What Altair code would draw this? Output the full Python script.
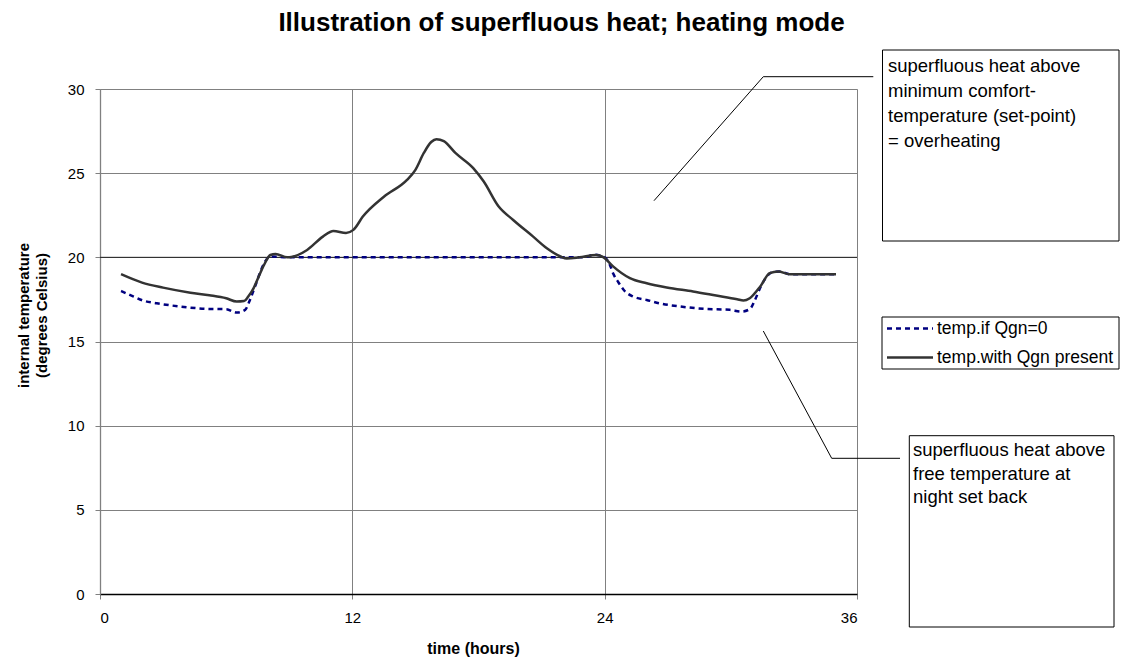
import altair as alt
import pandas as pd

# ---------------- data ----------------
series_free = "temp.if Qgn=0"
series_with = "temp.with Qgn present"

hours_with = [1.0, 2.0, 3.0, 4.3, 5.2, 6.0, 6.5, 6.85, 7.05, 7.3, 7.55, 7.8, 8.1, 8.35,
              8.9, 9.1, 9.85, 10.6, 11.1, 11.7, 12.05, 12.5, 13.5, 14.6, 15.0, 15.4,
              15.75, 16.0, 16.35, 16.9, 17.75, 18.25, 18.95, 19.65, 20.6, 21.25, 21.9,
              22.2, 22.8, 23.6, 23.95, 24.4, 25.2, 26.0, 26.95, 28.2, 29.3, 30.3, 30.6,
              30.9, 31.4, 31.85, 32.25, 32.8, 35.0]
temp_with = [19.0, 18.5, 18.2, 17.9, 17.75, 17.57, 17.37, 17.4, 17.67, 18.16, 18.86,
             19.55, 20.14, 20.2, 20.0, 20.02, 20.44, 21.23, 21.57, 21.45, 21.63, 22.42,
             23.6, 24.6, 25.2, 26.2, 26.85, 27.02, 26.9, 26.2, 25.3, 24.5, 23.03, 22.22,
             21.23, 20.54, 20.05, 19.93, 20.0, 20.14, 20.0, 19.46, 18.76, 18.46, 18.21,
             17.97, 17.73, 17.51, 17.43, 17.57, 18.27, 19.06, 19.16, 19.0, 19.0]

hours_free = [1.0, 1.6, 2.05, 2.7, 3.8, 5.1, 6.0, 6.5, 6.9, 7.13, 7.37, 7.6, 7.85, 8.1,
              9.0, 23.0, 23.5, 23.93, 24.25, 24.4, 24.65, 24.95, 25.35, 26.0, 26.6, 27.6,
              28.7, 29.95, 30.5, 30.9, 31.15, 31.35, 31.6, 31.95, 32.35, 32.8, 35.0]
temp_free = [18.0, 17.67, 17.43, 17.27, 17.08, 16.94, 16.92, 16.72, 16.88, 17.47, 18.26,
             19.05, 19.75, 20.05, 20.0, 20.0, 20.15, 20.05, 19.55, 19.05, 18.52, 18.0,
             17.67, 17.47, 17.27, 17.08, 16.94, 16.88, 16.78, 16.92, 17.47, 18.06, 18.66,
             19.1, 19.16, 19.0, 19.0]

set_point = [20]
x_ticks = [0, 12, 24, 36]
y_ticks = [0, 5, 10, 15, 20, 25, 30]

title_text = "Illustration of superfluous heat; heating mode"
x_title = "time (hours)"
y_title = ["internal temperature", "(degrees Celsius)"]
note_top = ["superfluous heat above", "minimum comfort-", "temperature (set-point)", "= overheating"]
note_bottom = ["superfluous heat above", "free temperature at", "night set back"]

# ---------------- layout / style ----------------
W, H = 757, 505
FONT = "Liberation Sans"
NAVY = "#000080"
DARK = "#333333"
GRID = "#808080"

df_with = pd.DataFrame({"hour": hours_with, "temp": temp_with, "series": series_with})
df_free = pd.DataFrame({"hour": hours_free, "temp": temp_free, "series": series_free})

xs = alt.Scale(domain=[0, 36], nice=False, zero=False)
ys = alt.Scale(domain=[0, 30], nice=False, zero=False)

x_axis = alt.Axis(values=x_ticks, grid=True, gridColor=GRID, gridWidth=1,
                  domainColor="#000000", domainWidth=1.3, tickColor=GRID, tickSize=5,
                  labelFontSize=15, labelColor="#000000", labelPadding=11, labelFont=FONT,
                  title=x_title, titleFontSize=16, titleFontWeight="bold", titleFont=FONT,
                  titleColor="#000000", titleY=54, titleBaseline="middle", titleX=373)
y_axis = alt.Axis(values=y_ticks, grid=True, gridColor=GRID, gridWidth=1,
                  domainColor=GRID, domainWidth=1.3, tickColor=GRID, tickSize=5,
                  labelFontSize=15, labelColor="#000000", labelPadding=11, labelFont=FONT,
                  title=y_title, titleFontSize=15, titleFontWeight="bold", titleFont=FONT,
                  titleColor="#000000", titleAngle=-90, titleX=-77, titleY=226,
                  titleBaseline="middle", titleLineHeight=18, titleAlign="center")

free_line = alt.Chart(df_free).mark_line(
    interpolate="monotone", color=NAVY, strokeWidth=2.5, strokeDash=[5, 4]
).encode(
    x=alt.X("hour:Q", scale=xs, axis=x_axis),
    y=alt.Y("temp:Q", scale=ys, axis=y_axis),
)

with_line = alt.Chart(df_with).mark_line(
    interpolate="monotone", color=DARK, strokeWidth=2.5
).encode(x=alt.X("hour:Q", scale=xs), y=alt.Y("temp:Q", scale=ys))

sp_rule = alt.Chart(pd.DataFrame({"sp": set_point})).mark_rule(
    color="#222222", strokeWidth=1
).encode(y=alt.Y("sp:Q", scale=ys), x=alt.value(0), x2=alt.value(W))

# ---- annotation geometry (pixels relative to plot origin) ----
boxes = pd.DataFrame({
    "x1": [782.5, 809.3, 782.0], "x2": [1019.0, 1014.0, 1019.0],
    "y1": [-39.0, 346.7, 228.0], "y2": [152.0, 538.0, 280.0],
})
leaders = pd.DataFrame({
    "x1": [663.3, 663.3, 663.3, 731.7],
    "y1": [-12.3, -12.3, 242.0, 369.3],
    "x2": [773.3, 554.0, 731.7, 800.0],
    "y2": [-12.3, 111.7, 369.3, 369.3],
})
notes = pd.DataFrame({
    "text": note_top + note_bottom,
    "px": [788.0] * len(note_top) + [813.0] * len(note_bottom),
    "py": [-17.0 + 25.0 * i for i in range(len(note_top))]
          + [367.0 + 23.5 * i for i in range(len(note_bottom))],
})
legend_rows = pd.DataFrame({
    "label": [series_free, series_with],
    "sx1": [787.0, 787.0], "sx2": [833.0, 833.0],
    "sy": [239.5, 268.5], "tx": [837.0, 837.0],
})

P = lambda f: alt.X(f, type="quantitative", scale=None, axis=None)
Q = lambda f: alt.Y(f, type="quantitative", scale=None, axis=None)

box_layer = alt.Chart(boxes).mark_rect(fill="white", stroke="#000000", strokeWidth=1).encode(
    x=P("x1"), x2="x2", y=Q("y1"), y2="y2")
leader_layer = alt.Chart(leaders).mark_rule(color="#000000", strokeWidth=1).encode(
    x=P("x1"), y=Q("y1"), x2="x2", y2="y2")
note_layer = alt.Chart(notes).mark_text(
    align="left", baseline="alphabetic", fontSize=18.5, font=FONT, color="#000000"
).encode(x=P("px"), y=Q("py"), text="text:N")

leg_free = alt.Chart(legend_rows.iloc[[0]]).mark_rule(
    color=NAVY, strokeWidth=2.5, strokeDash=[5, 4]).encode(
    x=P("sx1"), x2="sx2", y=Q("sy"))
leg_with = alt.Chart(legend_rows.iloc[[1]]).mark_rule(
    color=DARK, strokeWidth=2.5).encode(
    x=P("sx1"), x2="sx2", y=Q("sy"))
leg_text = alt.Chart(legend_rows).mark_text(
    align="left", baseline="middle", fontSize=17.5, font=FONT, color="#000000"
).encode(x=P("tx"), y=Q("sy"), text="label:N")

chart = alt.layer(
    sp_rule, free_line, with_line, leader_layer, box_layer, note_layer,
    leg_free, leg_with, leg_text
).properties(
    width=W, height=H,
    title=alt.TitleParams(title_text, fontSize=26, fontWeight="bold", font=FONT,
                          color="#000000", anchor="middle", frame="group", dx=83,
                          offset=-7, baseline="alphabetic"),
    autosize=alt.AutoSizeParams(type="none"),
    padding={"left": 92, "top": 81, "right": 263, "bottom": 64},
).configure_view(stroke=None).configure(font=FONT, background="white")

chart.save("out.html", embed_options={"renderer": "svg", "actions": False})
